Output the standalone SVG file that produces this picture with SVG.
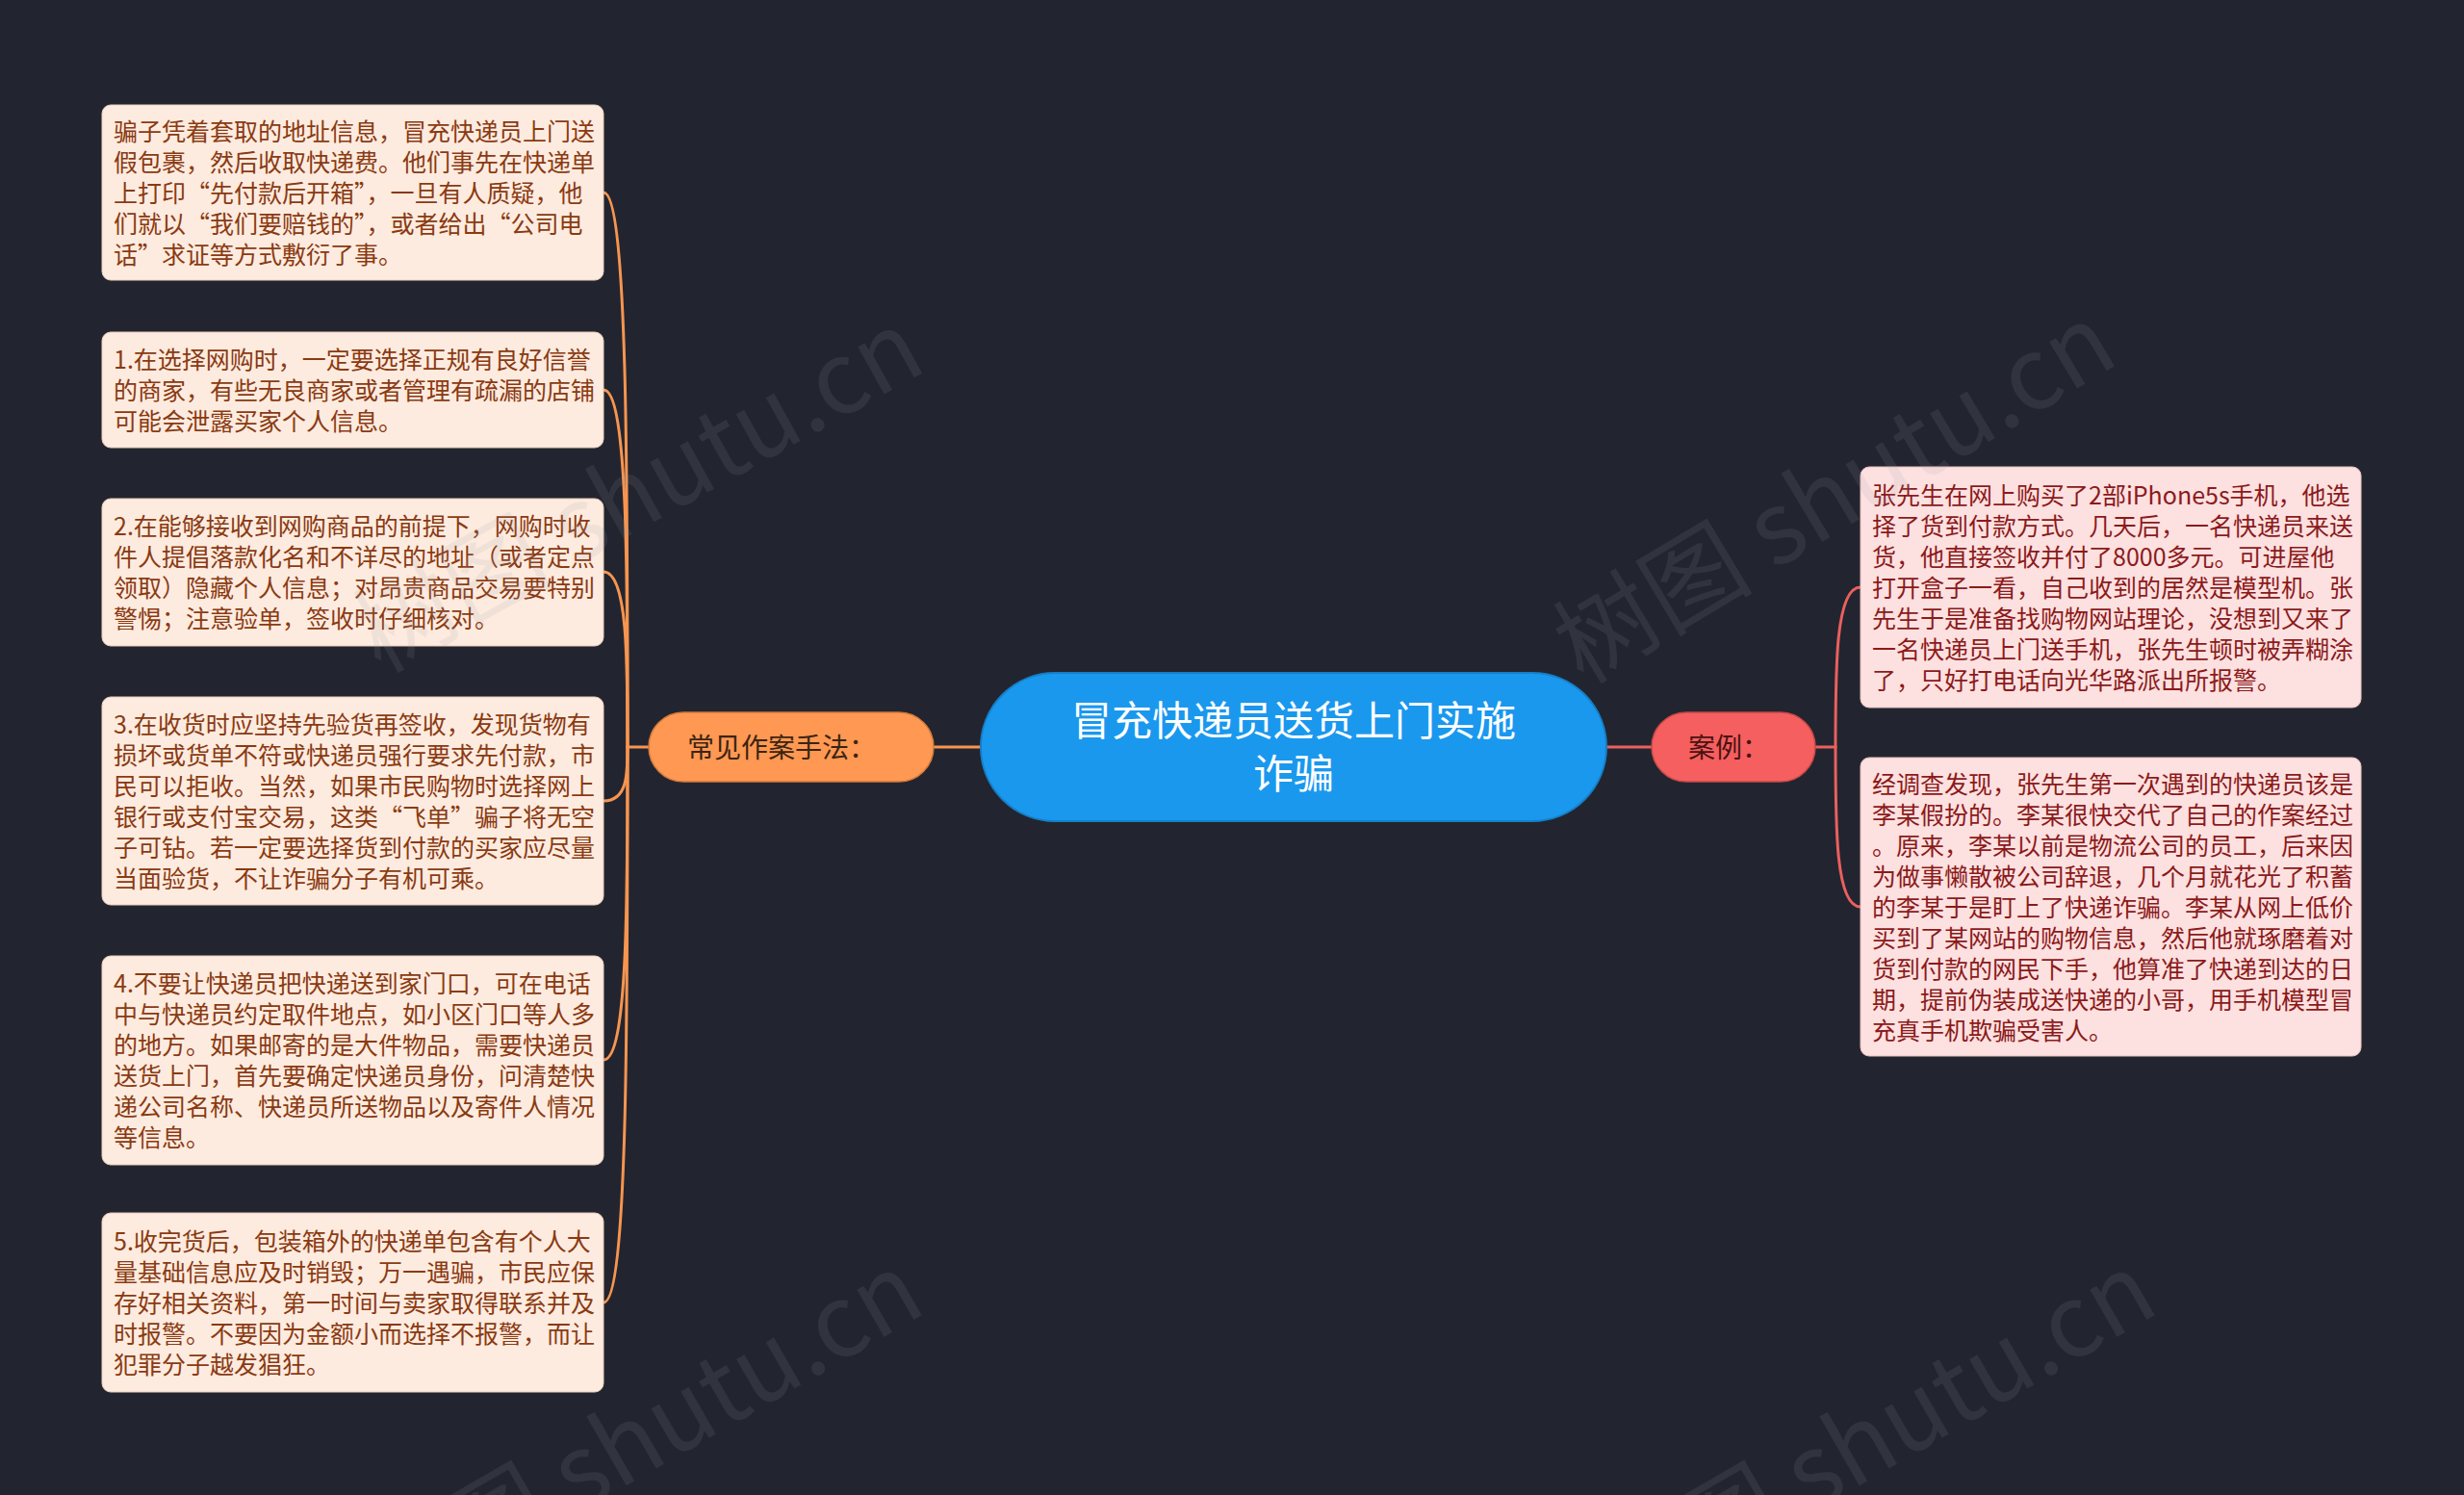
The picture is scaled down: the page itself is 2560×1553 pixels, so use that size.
<svg xmlns="http://www.w3.org/2000/svg" width="2560" height="1553" viewBox="0 0 2560 1553">
<style>
.bg{fill:#22252f}
.lbox{fill:#fdebdf;stroke:#e9cdb9;stroke-width:1}
.rbox{fill:#fde0e0;stroke:#eac0c0;stroke-width:1}
.lt{font-family:"Noto Sans CJK SC","Noto Sans",sans-serif;font-size:25px;fill:#8a3a12}
.rt{font-family:"Noto Sans CJK SC","Noto Sans",sans-serif;font-size:25px;fill:#8b1a1a}
.ct{font-family:"Noto Sans CJK SC","Noto Sans",sans-serif;font-size:42px;fill:#ffffff}
.bt{font-family:"Noto Sans CJK SC","Noto Sans",sans-serif;font-size:28px}
.lc{fill:none;stroke:#f79550;stroke-width:3;stroke-linecap:round}
.rc{fill:none;stroke:#ea605f;stroke-width:3;stroke-linecap:round}
.wm{font-family:"Noto Sans CJK SC","Noto Sans",sans-serif;font-size:104px;fill:#9a9ea8;opacity:0.12}
</style>
<rect class="bg" x="0" y="0" width="2560" height="1553"/>

<g id="connectors">
<path class="lc" d="M674 776 L652 776"/>
<path class="lc" d="M652 776 C652 488, 652 200, 627 200"/>
<path class="lc" d="M652 776 C652 590, 652 405, 627 405"/>
<path class="lc" d="M652 776 C652 685, 652 594, 627 594"/>
<path class="lc" d="M652 776 C652 804, 652 832, 627 832"/>
<path class="lc" d="M652 776 C652 938, 652 1101, 627 1101"/>
<path class="lc" d="M652 776 C652 1064, 652 1353, 627 1353"/>
<path class="lc" d="M970 776 L1019 776"/>
<path class="rc" d="M1669 776 L1716 776"/>
<path class="rc" d="M1886 776 L1907 776"/>
<path class="rc" d="M1907 776 C1907 693, 1907 610, 1933 610"/>
<path class="rc" d="M1907 776 C1907 859, 1907 942, 1933 942"/>
</g>

<g id="center">
<rect x="1019" y="699" width="650" height="154" rx="77" fill="#1a98ee" stroke="#157fc8" stroke-width="2"/>
<text class="ct" x="1344" y="764" text-anchor="middle">冒充快递员送货上门实施</text>
<text class="ct" x="1344" y="819" text-anchor="middle">诈骗</text>
</g>

<g id="branch-left">
<rect x="674" y="740" width="296" height="72" rx="36" fill="#fe9852" stroke="#d27a3c" stroke-width="1.5"/>
<text class="bt" x="714" y="787" fill="#3b2412">常见作案手法：</text>
</g>

<g id="branch-right">
<rect x="1716" y="740" width="170" height="72" rx="36" fill="#f55f5f" stroke="#c84848" stroke-width="1.5"/>
<text class="bt" x="1754" y="787" fill="#4a1212">案例：</text>
</g>

<g id="l1">
<rect class="lbox" x="106" y="109" width="521" height="182" rx="9"/>
<text class="lt" x="118" y="145.5">骗子凭着套取的地址信息，冒充快递员上门送</text>
<text class="lt" x="118" y="177.5">假包裹，然后收取快递费。他们事先在快递单</text>
<text class="lt" x="118" y="209.5">上打印“先付款后开箱”，一旦有人质疑，他</text>
<text class="lt" x="118" y="241.5">们就以“我们要赔钱的”，或者给出“公司电</text>
<text class="lt" x="118" y="273.5">话”求证等方式敷衍了事。</text>
</g>

<g id="l2">
<rect class="lbox" x="106" y="345" width="521" height="120" rx="9"/>
<text class="lt" x="118" y="382.5">1.在选择网购时，一定要选择正规有良好信誉</text>
<text class="lt" x="118" y="414.5">的商家，有些无良商家或者管理有疏漏的店铺</text>
<text class="lt" x="118" y="446.5">可能会泄露买家个人信息。</text>
</g>

<g id="l3">
<rect class="lbox" x="106" y="518" width="521" height="153" rx="9"/>
<text class="lt" x="118" y="556">2.在能够接收到网购商品的前提下，网购时收</text>
<text class="lt" x="118" y="588">件人提倡落款化名和不详尽的地址（或者定点</text>
<text class="lt" x="118" y="620">领取）隐藏个人信息；对昂贵商品交易要特别</text>
<text class="lt" x="118" y="652">警惕；注意验单，签收时仔细核对。</text>
</g>

<g id="l4">
<rect class="lbox" x="106" y="724" width="521" height="216" rx="9"/>
<text class="lt" x="118" y="761.5">3.在收货时应坚持先验货再签收，发现货物有</text>
<text class="lt" x="118" y="793.5">损坏或货单不符或快递员强行要求先付款，市</text>
<text class="lt" x="118" y="825.5">民可以拒收。当然，如果市民购物时选择网上</text>
<text class="lt" x="118" y="857.5">银行或支付宝交易，这类“飞单”骗子将无空</text>
<text class="lt" x="118" y="889.5">子可钻。若一定要选择货到付款的买家应尽量</text>
<text class="lt" x="118" y="921.5">当面验货，不让诈骗分子有机可乘。</text>
</g>

<g id="l5">
<rect class="lbox" x="106" y="993" width="521" height="217" rx="9"/>
<text class="lt" x="118" y="1031">4.不要让快递员把快递送到家门口，可在电话</text>
<text class="lt" x="118" y="1063">中与快递员约定取件地点，如小区门口等人多</text>
<text class="lt" x="118" y="1095">的地方。如果邮寄的是大件物品，需要快递员</text>
<text class="lt" x="118" y="1127">送货上门，首先要确定快递员身份，问清楚快</text>
<text class="lt" x="118" y="1159">递公司名称、快递员所送物品以及寄件人情况</text>
<text class="lt" x="118" y="1191">等信息。</text>
</g>

<g id="l6">
<rect class="lbox" x="106" y="1260" width="521" height="186" rx="9"/>
<text class="lt" x="118" y="1298.5">5.收完货后，包装箱外的快递单包含有个人大</text>
<text class="lt" x="118" y="1330.5">量基础信息应及时销毁；万一遇骗，市民应保</text>
<text class="lt" x="118" y="1362.5">存好相关资料，第一时间与卖家取得联系并及</text>
<text class="lt" x="118" y="1394.5">时报警。不要因为金额小而选择不报警，而让</text>
<text class="lt" x="118" y="1426.5">犯罪分子越发猖狂。</text>
</g>

<g id="r1">
<rect class="rbox" x="1933" y="485" width="520" height="250" rx="9"/>
<text class="rt" x="1945" y="523.5">张先生在网上购买了2部iPhone5s手机，他选</text>
<text class="rt" x="1945" y="555.5">择了货到付款方式。几天后，一名快递员来送</text>
<text class="rt" x="1945" y="587.5">货，他直接签收并付了8000多元。可进屋他</text>
<text class="rt" x="1945" y="619.5">打开盒子一看，自己收到的居然是模型机。张</text>
<text class="rt" x="1945" y="651.5">先生于是准备找购物网站理论，没想到又来了</text>
<text class="rt" x="1945" y="683.5">一名快递员上门送手机，张先生顿时被弄糊涂</text>
<text class="rt" x="1945" y="715.5">了，只好打电话向光华路派出所报警。</text>
</g>

<g id="r2">
<rect class="rbox" x="1933" y="787" width="520" height="310" rx="9"/>
<text class="rt" x="1945" y="823.5">经调查发现，张先生第一次遇到的快递员该是</text>
<text class="rt" x="1945" y="855.5">李某假扮的。李某很快交代了自己的作案经过</text>
<text class="rt" x="1945" y="887.5">。原来，李某以前是物流公司的员工，后来因</text>
<text class="rt" x="1945" y="919.5">为做事懒散被公司辞退，几个月就花光了积蓄</text>
<text class="rt" x="1945" y="951.5">的李某于是盯上了快递诈骗。李某从网上低价</text>
<text class="rt" x="1945" y="983.5">买到了某网站的购物信息，然后他就琢磨着对</text>
<text class="rt" x="1945" y="1015.5">货到付款的网民下手，他算准了快递到达的日</text>
<text class="rt" x="1945" y="1047.5">期，提前伪装成送快递的小哥，用手机模型冒</text>
<text class="rt" x="1945" y="1079.5">充真手机欺骗受害人。</text>
</g>

<g id="watermarks">
<text class="wm" x="395" y="700" transform="rotate(-29 395 700)">树图 shutu.cn</text>
<text class="wm" x="1645" y="712" transform="rotate(-31 1645 712)">树图 shutu.cn</text>
<text class="wm" x="400" y="1688" transform="rotate(-30 400 1688)">树图 shutu.cn</text>
<text class="wm" x="1681" y="1688" transform="rotate(-30 1681 1688)">树图 shutu.cn</text>
</g>
</svg>
